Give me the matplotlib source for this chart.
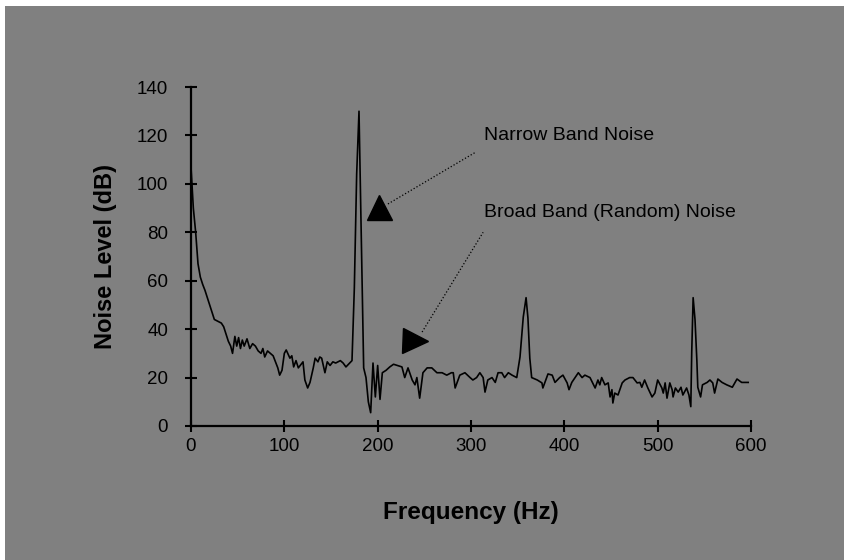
# Spectre de bruit : niveau (dB) en fonction de la fréquence (Hz)
import matplotlib
matplotlib.use('Agg')
import matplotlib.pyplot as plt
import matplotlib.patches as patches

plt.rcParams['font.family'] = ['Liberation Sans Narrow', 'Liberation Sans', 'DejaVu Sans']

############################### Données #######################################################
freq = [0, 2.5, 5, 7.5, 10, 12.5, 15, 17.5, 20, 22.5, 25, 27.5, 30, 32.5, 35, 37.5, 40, 42.5,
        44.5, 47, 49, 51, 53, 55, 57, 60, 63, 66, 69, 72, 75, 77, 79, 82, 85, 88, 90, 93, 95,
        97.5, 100, 102, 106, 108, 110, 112.5, 115, 117, 120, 122, 125, 127.5, 131, 133, 136,
        138, 140, 143.5, 146, 149, 152, 155, 160, 163, 166, 170, 172.5, 175, 177.5, 180, 182.5,
        185, 187.5, 190, 192.5, 195, 197.5, 200, 202.5, 205, 209, 213, 217, 221, 226, 229,
        232.5, 237, 240, 242, 245, 248.5, 253, 258, 263.5, 269, 274, 279, 281, 283, 288,
        293.5, 299, 302, 306, 309.5, 313, 315, 318, 322.5, 326, 329, 333, 336, 340, 344, 349,
        352.5, 356, 359, 361, 363, 365, 371, 376, 377, 382.5, 387, 390, 395, 398.5, 403, 405,
        408, 411.5, 415, 419, 422, 427.5, 433, 436, 438, 440, 443.5, 447, 449, 451, 452, 454,
        457.5, 462, 465, 470, 473.5, 478, 481, 483, 486, 489.5, 494, 497, 500, 504.5, 506,
        508, 510, 513, 515.5, 516.5, 519, 522, 525, 527, 531, 533.5, 535.5, 536.5, 538, 540,
        542, 543, 546, 548, 553, 556, 559, 561, 564.5, 569, 574, 580, 585, 590, 597]

level = [107, 90, 80, 67, 61.5, 58.5, 56, 53, 50, 47, 44, 43.5, 43, 42.5, 41, 38, 35, 33,
         30, 37, 33, 36.5, 32, 35.5, 33, 36, 32, 34, 33, 31, 30, 32, 28.5, 31, 30, 29, 27, 24,
         21, 23, 30, 31.4, 28, 29, 24.4, 27, 24, 25, 26.5, 19, 15.7, 18, 24, 28, 26.5,
         28.5, 28, 22, 26.5, 25, 26.5, 26, 27, 26, 24.4, 26, 27, 57, 104, 130, 77,
         24, 20, 10, 5.5, 26, 12, 25, 11, 22, 23, 24.4, 25.5, 25, 24.4, 20,
         24, 19, 17, 20, 11.5, 22, 24, 24, 22, 22, 21, 22, 22, 15.7, 21,
         22, 20, 19, 20, 22, 20, 14, 19, 20, 18, 22, 22, 20, 22, 21, 20,
         28.5, 45, 53, 44.6, 28, 20, 19, 17.8, 15.7, 21.5, 21, 18, 20, 21, 17.8, 15,
         18, 20, 22, 20, 21, 20, 15.7, 19, 17, 20, 17, 17.8, 12, 15, 9.5, 13.6,
         12.8, 17.8, 19, 20, 20, 17.8, 18, 16, 19, 15.7, 12, 13.6, 19, 15.7, 13.6,
         17.8, 11.5, 17.8, 15, 12, 15.7, 14, 16, 12.8, 15.7, 12.8, 8, 30.5, 53, 44,
         27, 16, 12, 17, 18, 19, 17.8, 13.6, 19.4, 18, 17, 16, 19.4, 18, 18]

x_ticks = [0, 100, 200, 300, 400, 500, 600]
y_ticks = [0, 20, 40, 60, 80, 100, 120, 140]

###############################################################################################

gris = '#808080'
fig = plt.figure(figsize=(8.45, 5.6), dpi=100, facecolor=gris)
# bandes blanches en haut et à gauche
fig.add_artist(patches.Rectangle((0, 0), 5 / 845, 1, transform=fig.transFigure,
                                 facecolor='white', edgecolor='none'))
fig.add_artist(patches.Rectangle((0, 1 - 6 / 560), 1, 6 / 560, transform=fig.transFigure,
                                 facecolor='white', edgecolor='none'))

ax = fig.add_axes([191 / 845, 1 - 426 / 560, 560 / 845, 339 / 560])
ax.set_facecolor(gris)
ax.plot(freq, level, color='black', lw=1.2)

ax.set_xlim(0, 600)
ax.set_ylim(0, 140)
ax.set_xticks(x_ticks)
ax.set_yticks(y_ticks)
for s in ['top', 'right']:
    ax.spines[s].set_visible(False)
for s in ['left', 'bottom']:
    ax.spines[s].set_linewidth(1.6)
ax.tick_params(direction='inout', length=9, width=1.5, labelsize=13.5)
ax.tick_params(axis='x', pad=4)
ax.tick_params(axis='y', pad=12)

ax.set_xlabel('Frequency (Hz)', fontsize=17.5, fontweight='bold', labelpad=33)
ax.set_ylabel('Noise Level (dB)', fontsize=17, fontweight='bold', labelpad=14)

# annotations (flèches style Excel)
ax.text(314, 120, 'Narrow Band Noise', fontsize=14, va='center', ha='left')
ax.plot([211, 305.5], [91.7, 113.2], color='black', lw=0.9, ls=':')
ax.plot([201.5], [90.5], marker='^', ms=18, color='black')

ax.text(314, 88, 'Broad Band (Random) Noise', fontsize=14, va='center', ha='left')
ax.plot([247.6, 313], [38.8, 80], color='black', lw=0.9, ls=':')
ax.plot([240], [35], marker='>', ms=18, color='black')

fig.savefig('out.png', dpi=100, facecolor=gris)
